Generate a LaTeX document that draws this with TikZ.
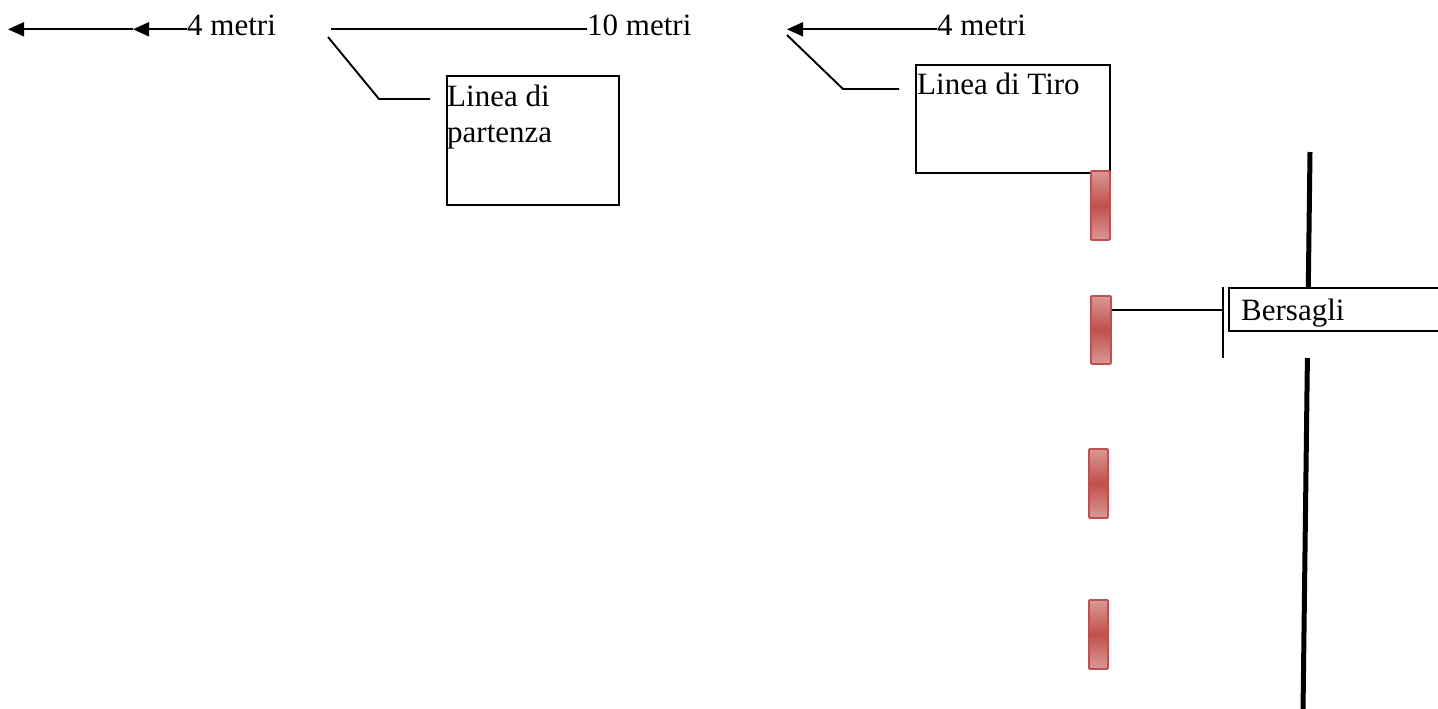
\documentclass[tikz,border=0pt]{standalone}
\usepackage{fontspec}
\setmainfont{Liberation Serif}
\usetikzlibrary{arrows.meta}
\definecolor{bersaglio}{HTML}{C0504D}
\definecolor{bersaglioL}{HTML}{DA9896}

\begin{document}
\begin{tikzpicture}[x=1pt,y=-1pt,
    every node/.style={font=\fontsize{31pt}{36pt}\selectfont,inner sep=0pt},
    linea/.style={line width=1.9pt},
    freccia/.style={linea,-{Triangle[length=16pt,width=14pt]}},
    riquadro/.style={draw,line width=1.9pt,fill=white,anchor=north west},
    sagoma/.style={draw=bersaglio,line width=1.8pt,rounded corners=1pt,
      top color=bersaglioL,bottom color=bersaglioL,middle color=bersaglio,
      minimum width=18pt,minimum height=68pt,anchor=north west}]
      \clip (0,0) rectangle (1438,709);
      % misure in alto
      \node[anchor=base west] (m1) at (187,36) {4 metri};
      \node[anchor=base west] (m2) at (587,36) {10 metri};
      \node[anchor=base west] (m3) at (937,36) {4 metri};
      \coordinate (p1) at (133,29.3);
      \coordinate (p0) at (8,29.3);
      \coordinate (p2) at (331,29.3);
      \coordinate (p3) at (787,29.3);
      \draw[freccia] ([yshift=6.7pt]m1.base west) -- (p1);
      \draw[freccia] (p1) -- (p0);
      \draw[linea] ([yshift=6.7pt]m2.base west) -- (p2);
      \draw[freccia] ([yshift=6.7pt]m3.base west) -- (p3);
      % riquadri
      \node[riquadro,minimum width=172pt,minimum height=129pt] (partenza) at (446,75) {};
      \node[anchor=north west,align=left] (tpartenza) at (447,84.8) {Linea di\\partenza};
      \node[riquadro,minimum width=194pt,minimum height=108pt] (tiro) at (915,64) {};
      \node[anchor=base west] (ttiro) at (917,95) {Linea di Tiro};
      \coordinate (l1) at (328,37);
      \coordinate (l1a) at (379,99);
      \coordinate (l1b) at (430,99);
      \draw[linea] (l1) -- (l1a) -- (l1b);
      \coordinate (l2) at (787,35);
      \coordinate (l2a) at (843,89);
      \coordinate (l2b) at (899,89);
      \draw[linea] (l2) -- (l2a) -- (l2b);
      % bersagli
      \node[sagoma,minimum width=19pt,minimum height=69pt] (b1) at (1090,170) {};
      \node[sagoma,minimum width=20pt] (b2) at (1090,295) {};
      \node[sagoma,minimum width=19pt,minimum height=69pt] (b3) at (1088,448) {};
      \node[sagoma,minimum width=19pt,minimum height=69pt] (b4) at (1088,599) {};
      % muro
      \coordinate (s1) at (1310,152);
      \coordinate (s2) at (1308.3,287);
      \coordinate (s3) at (1307.4,358);
      \coordinate (s4) at (1303,712);
      \draw[line width=5pt] (s1) -- (s2);
      \draw[line width=5pt] (s3) -- (s4);
      % richiamo
      \node[riquadro,minimum width=230pt,minimum height=43pt] (bers) at (1228,287) {};
      \node[anchor=base west] (tbers) at (1241,320) {Bersagli};
      \coordinate (c1) at (1223,287);
      \coordinate (c2) at (1223,358);
      \coordinate (c0) at (1223,310);
      \draw[linea] (c1) -- (c2);
      \draw[linea] (b2.east |- c0) -- (c0);
\end{tikzpicture}
\end{document}
